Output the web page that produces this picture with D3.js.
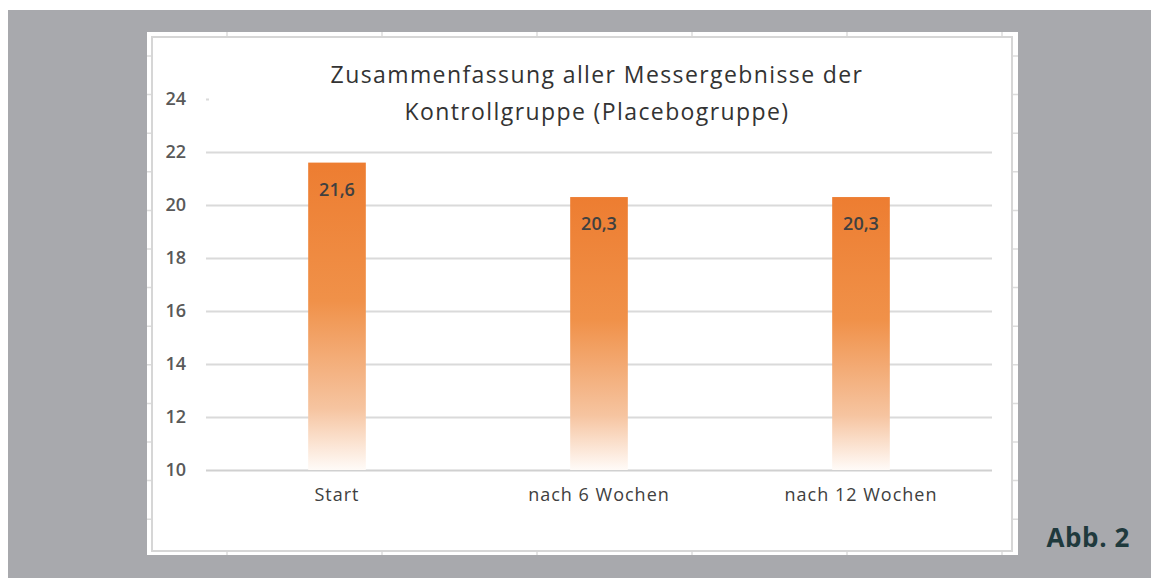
<!DOCTYPE html>
<html>
<head>
<meta charset="utf-8">
<script src="https://cdn.jsdelivr.net/npm/d3@7"></script>
<style>
  html, body { margin: 0; padding: 0; background: #fff; }
  svg { display: block; }
</style>
</head>
<body>
<div id="chart"></div>
<script>
// chart data
const categories = ["Start", "nach 6 Wochen", "nach 12 Wochen"];
const values = [21.6, 20.3, 20.3];
const valueLabels = ["21,6", "20,3", "20,3"];
const yTicks = [10, 12, 14, 16, 18, 20, 22, 24];
const titleLines = ["Zusammenfassung aller Messergebnisse der", "Kontrollgruppe (Placebogruppe)"];

const width = 1151, height = 578;

const svg = d3.select("#chart")
    .append("svg")
    .attr("width", width)
    .attr("height", height);

// grey page background
svg.append("rect")
    .attr("x", 8).attr("y", 10)
    .attr("width", width - 8).attr("height", height - 10)
    .attr("fill", "#a8a9ad");

// white sheet with excel cell lines showing at the edges
svg.append("rect")
    .attr("x", 147).attr("y", 32)
    .attr("width", 871).attr("height", 523)
    .attr("fill", "#ffffff");

const sheet = svg.append("g").attr("stroke", "#dcdcdc").attr("stroke-width", 1.5);
d3.range(227, 1018, 155).forEach(x => {
    sheet.append("line").attr("x1", x).attr("x2", x).attr("y1", 32).attr("y2", 555);
});
d3.range(56, 555, 38.6).forEach(y => {
    sheet.append("line").attr("x1", 147).attr("x2", 1018).attr("y1", y).attr("y2", y);
});

// chart area frame
svg.append("rect")
    .attr("x", 152).attr("y", 37)
    .attr("width", 860).attr("height", 514)
    .attr("fill", "#ffffff")
    .attr("stroke", "#d6d6d6")
    .attr("stroke-width", 2);

// scales
const plot = { left: 206, right: 992, top: 99, bottom: 470 };

const xScale = d3.scaleBand()
    .domain(categories)
    .range([plot.left, plot.right])
    .paddingInner(0.78)
    .paddingOuter(0.39);

const yScale = d3.scaleLinear()
    .domain([10, 24])
    .range([plot.bottom, plot.top]);

// gridlines + y labels
const yAxis = svg.append("g")
    .attr("transform", `translate(${plot.left},0)`)
    .call(d3.axisLeft(yScale)
        .tickValues(yTicks)
        .tickSize(-(plot.right - plot.left))
        .tickPadding(20)
        .tickFormat(d => d));

yAxis.select(".domain").remove();
yAxis.selectAll(".tick line")
    .attr("stroke", d => d === 10 ? "#d0d0d0" : "#dadada")
    .attr("stroke-width", 2);
yAxis.selectAll(".tick text")
    .attr("fill", "#595959")
    .style("font-family", "'Open Sans', sans-serif")
    .style("font-weight", "600")
    .style("font-size", "18px");

// title box (covers the top gridline like in the original)
svg.append("rect")
    .attr("x", plot.left + 3).attr("y", 55)
    .attr("width", plot.right - plot.left - 3).attr("height", 82)
    .attr("fill", "#ffffff");

const title = svg.append("text")
    .attr("text-anchor", "middle")
    .attr("fill", "#333333")
    .style("font-family", "'Open Sans', sans-serif")
    .style("font-size", "23px")
    .style("letter-spacing", "1.4px");
titleLines.forEach((t, i) => {
    title.append("tspan")
        .attr("x", 597)
        .attr("y", 83 + i * 37)
        .text(t);
});

// bar gradient
const defs = svg.append("defs");
const grad = defs.append("linearGradient")
    .attr("id", "barGrad")
    .attr("x1", 0).attr("y1", 0).attr("x2", 0).attr("y2", 1);
grad.append("stop").attr("offset", "0%").attr("stop-color", "#ed7d31");
grad.append("stop").attr("offset", "45%").attr("stop-color", "#f09149");
grad.append("stop").attr("offset", "80%").attr("stop-color", "#f6c4a0");
grad.append("stop").attr("offset", "100%").attr("stop-color", "#fffbf8");

// bars
svg.selectAll("rect.bar")
    .data(values)
    .enter()
    .append("rect")
    .attr("class", "bar")
    .attr("x", (d, i) => xScale(categories[i]))
    .attr("y", d => yScale(d))
    .attr("width", xScale.bandwidth())
    .attr("height", d => yScale(10) - yScale(d))
    .attr("fill", "url(#barGrad)");

// value labels inside bars
svg.selectAll("text.val")
    .data(values)
    .enter()
    .append("text")
    .attr("class", "val")
    .attr("x", (d, i) => xScale(categories[i]) + xScale.bandwidth() / 2)
    .attr("y", d => yScale(d) + 33)
    .attr("text-anchor", "middle")
    .attr("fill", "#404040")
    .style("font-family", "'Open Sans', sans-serif")
    .style("font-weight", "600")
    .style("font-size", "18px")
    .text((d, i) => valueLabels[i]);

// category labels
svg.append("g")
    .attr("transform", `translate(0,${plot.bottom})`)
    .call(d3.axisBottom(xScale).tickSize(0).tickPadding(18))
    .call(g => g.select(".domain").remove())
    .selectAll("text")
    .attr("fill", "#404040")
    .style("font-family", "'Open Sans', sans-serif")
    .style("font-size", "18px")
    .style("letter-spacing", "1px");

// figure caption
svg.append("text")
    .attr("x", 1130)
    .attr("y", 547)
    .attr("text-anchor", "end")
    .attr("fill", "#1f3a3d")
    .style("font-family", "'Open Sans', sans-serif")
    .style("font-weight", "700")
    .style("font-size", "26px")
    .style("letter-spacing", "0.6px")
    .text("Abb. 2");
</script>
</body>
</html>
